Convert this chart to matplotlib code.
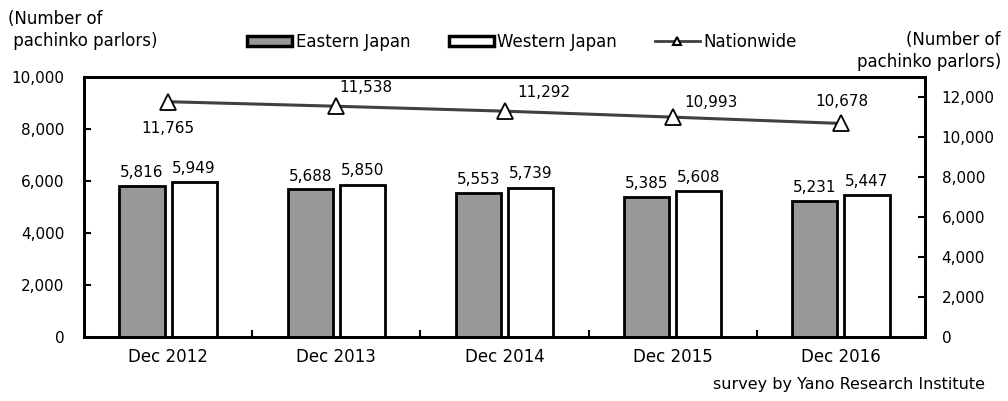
import matplotlib
matplotlib.use("Agg")
import matplotlib.pyplot as plt
import numpy as np
from matplotlib.lines import Line2D
from matplotlib.patches import Patch

categories = ["Dec 2012", "Dec 2013", "Dec 2014", "Dec 2015", "Dec 2016"]
eastern = [5816, 5688, 5553, 5385, 5231]
western = [5949, 5850, 5739, 5608, 5447]
nationwide = [11765, 11538, 11292, 10993, 10678]
left_ticks = [0, 2000, 4000, 6000, 8000, 10000]
right_ticks = [0, 2000, 4000, 6000, 8000, 10000, 12000]

# label offsets for the nationwide values (pixels, layout only)
nat_offsets = [(0, -27), (30, 19), (39, 19), (38, 15), (1, 22)]

plt.rcParams['font.family'] = ['DejaVu Sans']
fs = 11
fsw = 12

fig = plt.figure(figsize=(10.08, 4.01), dpi=100)
ax = fig.add_axes([84/1008, 1-337/401, 841/1008, 260/401])
ax2 = ax.twinx()

x = np.arange(len(categories))
w = 0.268
off = 0.155
ax.bar(x - off, eastern, width=w, color="#989898", edgecolor="black", linewidth=2, zorder=2)
ax.bar(x + off, western, width=w, color="white", edgecolor="black", linewidth=2, zorder=2)
for xi, v in zip(x - off, eastern):
    ax.annotate(f"{v:,}", (xi, v), xytext=(0, 13), textcoords="offset pixels",
                ha="center", va="center", fontsize=fs)
for xi, v in zip(x + off, western):
    ax.annotate(f"{v:,}", (xi, v), xytext=(0, 14), textcoords="offset pixels",
                ha="center", va="center", fontsize=fs)

ax.set_xlim(-0.5, len(categories) - 0.5)
ax.set_ylim(0, 10000)
ax.set_yticks(left_ticks)
ax.set_yticklabels([f"{t:,}" for t in left_ticks], fontsize=fs)
ax.set_xticks(x)
ax.set_xticklabels(categories, fontsize=fsw)
ax.tick_params(axis="x", length=0, pad=8)
ax.set_xticks(np.arange(len(categories) - 1) + 0.5, minor=True)
ax.tick_params(axis="x", which="minor", direction="in", length=5, width=1.5)
ax.tick_params(axis="y", direction="in", length=5, width=1.5, pad=14)
for s in ax.spines.values():
    s.set_linewidth(2)

ax2.set_ylim(0, 13000)
ax2.set_yticks(right_ticks)
ax2.set_yticklabels([f"{t:,}" for t in right_ticks], fontsize=fs)
ax2.tick_params(axis="y", direction="in", length=5, width=1.5, pad=12)
for s in ax2.spines.values():
    s.set_linewidth(2)
ax2.plot(x, nationwide, color="#404040", linewidth=2.2, marker="^", markersize=11,
         markerfacecolor="white", markeredgecolor="black", markeredgewidth=1.3, zorder=3)
for xi, v, (dx, dy) in zip(x, nationwide, nat_offsets):
    ax2.annotate(f"{v:,}", (xi, v), xytext=(dx, dy), textcoords="offset pixels",
                 ha="center", va="center", fontsize=fs)

fig.text(8/1008, 1-30/401, "(Number of\n pachinko parlors)", ha="left", va="center",
         fontsize=fsw, linespacing=1.35)
fig.text(1001/1008, 1-51/401, "(Number of\npachinko parlors)", ha="right", va="center",
         fontsize=fsw, linespacing=1.35, multialignment="right")
fig.text(985/1008, 1-384/401, "survey by Yano Research Institute", ha="right", va="center",
         fontsize=fsw - 0.5)

handles = [Patch(facecolor="#989898", edgecolor="black", linewidth=2.5),
           Patch(facecolor="white", edgecolor="black", linewidth=2.5),
           Line2D([0], [0], color="#404040", linewidth=2, marker="^", markersize=6,
                  markerfacecolor="white", markeredgecolor="black", markeredgewidth=1.5)]
fig.legend(handles, ["Eastern Japan", "Western Japan", "Nationwide"], loc="center",
           bbox_to_anchor=(522/1008, 1-42/401), ncol=3, frameon=False, fontsize=fsw,
           handlelength=2.7, handleheight=0.6, handletextpad=0.2, columnspacing=2.3)

fig.savefig("out.png", dpi=100)
